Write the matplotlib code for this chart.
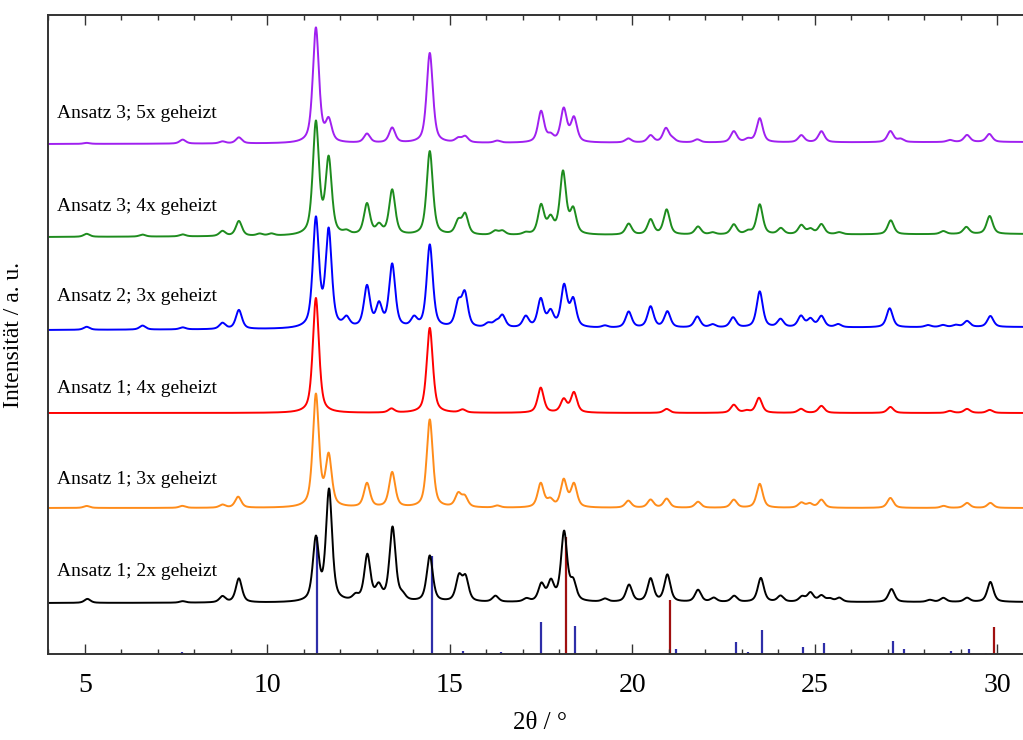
import matplotlib
matplotlib.use("Agg")
import matplotlib.pyplot as plt
import numpy as np
from matplotlib.ticker import MultipleLocator

plt.rcParams["font.family"] = ["Liberation Serif", "DejaVu Serif"]

# Peak lists: 2theta (deg), height above background (a. u.)
pos_2x = [5.07, 7.68, 8.77, 9.22, 11.33, 11.69, 12.42, 12.74, 13.05, 13.43, 13.70, 14.45,
          15.25, 15.43, 16.25, 17.10, 17.51, 17.77, 18.13, 18.38, 19.25, 19.91, 20.50,
          20.96, 21.80, 22.23, 22.79, 23.52, 24.06, 24.65, 24.88, 25.18, 25.41, 25.67,
          27.10, 28.15, 28.52, 29.17, 29.81]
int_2x = [4, 1.5, 6, 24, 62, 111, 5, 46, 14, 74, 5, 46,
          24, 23, 6, 3, 17, 19, 69, 18, 3, 17, 23,
          27, 12, 4, 6, 24, 6, 5, 9, 6, 3, 4,
          13, 2, 4, 4, 20]

pos_1_3x = [5.05, 7.67, 8.77, 9.20, 11.33, 11.68, 12.73, 13.42, 14.45, 15.23, 15.41, 16.30,
            17.49, 17.75, 18.12, 18.40, 19.89, 20.50, 20.94, 21.80, 22.78, 23.49, 24.63,
            24.86, 25.18, 27.07, 28.53, 29.17, 29.81]
int_1_3x = [2, 2, 3, 11, 112, 50, 24, 35, 88, 13, 10, 2,
            24, 7, 27, 23, 7, 8, 9, 6, 8, 24, 5,
            4, 8, 10, 2, 5, 5]

pos_1_4x = [11.33, 13.40, 14.45, 15.35, 17.49, 18.12, 18.40, 20.94, 22.78, 23.13, 23.47,
            24.62, 25.18, 27.07, 28.70, 29.17, 29.79]
int_1_4x = [115, 4, 85, 3, 25, 13, 20, 4, 8, 2, 15,
            4, 7, 6, 2, 4, 3]

pos_2_3x = [5.05, 6.58, 7.68, 8.77, 9.22, 11.33, 11.68, 12.17, 12.73, 13.06, 13.42, 14.02,
            14.45, 15.23, 15.41, 16.05, 16.26, 16.44, 17.08, 17.49, 17.76, 18.13, 18.38,
            19.25, 19.90, 20.50, 20.96, 21.78, 22.20, 22.76, 23.49, 24.06, 24.62, 24.88,
            25.18, 25.64, 27.05, 28.10, 28.51, 28.86, 29.17, 29.81]
int_2_3x = [3, 4, 2, 6, 19, 108, 96, 9, 41, 22, 63, 9,
            83, 23, 33, 4, 5, 12, 11, 28, 15, 41, 27,
            2, 16, 21, 16, 11, 3, 10, 36, 8, 11, 8,
            11, 3, 19, 2, 2, 2, 6, 11]

pos_3_4x = [5.05, 6.58, 7.68, 8.77, 9.22, 9.79, 10.11, 11.33, 11.68, 12.17, 12.73, 13.06,
            13.42, 14.45, 15.23, 15.42, 16.24, 16.44, 17.08, 17.50, 17.76, 18.10, 18.38,
            19.90, 20.50, 20.94, 21.80, 22.20, 22.78, 23.17, 23.49, 24.07, 24.63, 24.88,
            25.18, 25.67, 27.08, 28.52, 29.15, 29.79]
int_3_4x = [3, 2, 2, 5, 15, 2, 2, 112, 75, 3, 31, 9,
            45, 84, 13, 20, 4, 4, 2, 29, 15, 62, 24,
            11, 15, 25, 8, 2, 10, 3, 30, 6, 9, 5,
            10, 2, 14, 3, 7, 18]

pos_3_5x = [5.05, 7.68, 8.77, 9.22, 11.33, 11.68, 12.73, 13.42, 14.45, 15.23, 15.42, 16.30,
            17.50, 17.76, 18.12, 18.40, 19.89, 20.50, 20.92, 21.10, 21.78, 22.78, 23.17,
            23.49, 24.63, 25.18, 27.07, 27.35, 28.70, 29.17, 29.78]
int_3_5x = [1, 4, 2, 6, 115, 21, 9, 15, 90, 4, 6, 2,
            31, 6, 33, 24, 4, 7, 14, 3, 3, 11, 3,
            24, 7, 11, 11, 3, 2, 7, 8]

# background level of each trace at the left and right edge
bg_2x = [51, 52]
bg_1_3x = [146, 146]
bg_1_4x = [241, 241]
bg_2_3x = [324, 327]
bg_3_4x = [417, 420]
bg_3_5x = [510, 512]

labels = ["Ansatz 1; 2x geheizt", "Ansatz 1; 3x geheizt", "Ansatz 1; 4x geheizt",
          "Ansatz 2; 3x geheizt", "Ansatz 3; 4x geheizt", "Ansatz 3; 5x geheizt"]
label_y = [78, 170, 261, 353, 443, 536]

# reference pattern sticks
ref_blue_pos = [7.65, 11.35, 14.50, 15.37, 16.40, 17.50, 18.44, 21.19, 22.83, 23.16, 23.54,
                24.67, 25.24, 27.15, 27.45, 28.74, 29.23, 29.70]
ref_blue_int = [2, 117, 98, 3, 2, 32, 28, 5, 12, 2, 24,
                7, 11, 13, 5, 3, 5, 1]
ref_red_pos = [18.18, 21.03, 29.91]
ref_red_int = [117, 54, 27]

XMIN, XMAX = 3.99, 30.95
FWHM = 0.2
ETA = 0.6


def pattern(x, pos, hts, bg):
    y = np.interp(x, [XMIN, XMAX], bg)
    for p, h in zip(pos, hts):
        d = (x - p) / (FWHM / 2)
        gauss = np.exp(-np.log(2) * d ** 2)
        lorentz = 1.0 / (1.0 + d ** 2)
        y = y + h * (ETA * lorentz + (1 - ETA) * gauss)
    return y


x = np.linspace(XMIN, XMAX, 4000)
series = [
    (pos_2x, int_2x, bg_2x, "black"),
    (pos_1_3x, int_1_3x, bg_1_3x, "#FF8C1A"),
    (pos_1_4x, int_1_4x, bg_1_4x, "#FF0000"),
    (pos_2_3x, int_2_3x, bg_2_3x, "#0000FF"),
    (pos_3_4x, int_3_4x, bg_3_4x, "#1E8C1E"),
    (pos_3_5x, int_3_5x, bg_3_5x, "#A020F0"),
]

fig = plt.figure(figsize=(10.23, 7.40), dpi=100)
ax = fig.add_axes([48 / 1023, 1 - 654 / 740, 984 / 1023, 639 / 740])

ax.vlines(ref_blue_pos, 0, ref_blue_int, colors="#2E2EA8", linewidth=1.6, zorder=1)
ax.vlines(ref_red_pos, 0, ref_red_int, colors="#A01010", linewidth=1.6, zorder=1)

for (pos, hts, bg, color), lab, ly in zip(series, labels, label_y):
    ax.plot(x, pattern(x, pos, hts, bg), color=color, linewidth=1.4, zorder=2)
    ax.text(4.25, ly, lab, fontsize=14, va="baseline", ha="left")

ax.set_xlim(XMIN, XMAX)
ax.set_ylim(0, 639)
ax.set_yticks([])
ax.xaxis.set_major_locator(MultipleLocator(5))
ax.xaxis.set_minor_locator(MultipleLocator(1))
ax.tick_params(axis="x", which="both", direction="in", top=True, colors="#333333",
               labelcolor="black", labelsize=20, pad=14)
ax.tick_params(axis="x", which="major", length=7, width=1)
ax.tick_params(axis="x", which="minor", length=3.5, width=1)
for side in ["left", "top", "bottom", "right"]:
    ax.spines[side].set_color("#333333")
    ax.spines[side].set_linewidth(1.4)

ax.set_xlabel("2θ / °", fontsize=18, labelpad=10)
ax.set_ylabel("Intensität / a. u.", fontsize=17)
ax.yaxis.set_label_coords(-0.024, 0.5)

fig.savefig("out.png", dpi=100)
plt.close()
